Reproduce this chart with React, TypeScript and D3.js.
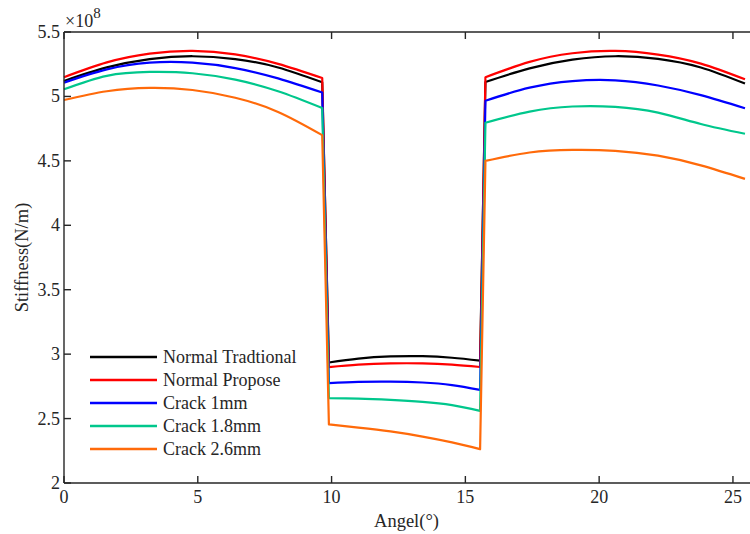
import React, { useEffect, useRef } from 'react';
import * as d3 from 'd3';

// angle (deg) sample points, shared by all series
const angles = [
  0, 1.6, 3.2, 4.8, 6.4, 8.0, 9.65,
  9.9, 11.0, 12.2, 13.4, 14.5, 15.55,
  15.75, 17.4, 19.0, 20.6, 22.2, 23.8, 25.45,
];
// the three contact regions (index ranges into angles)
const segments = [[0, 6], [7, 12], [13, 19]];

// stiffness values, x 1e8 N/m
const normalTraditional = [
  5.12, 5.225, 5.29, 5.312, 5.29, 5.225, 5.11,
  2.935, 2.965, 2.982, 2.984, 2.972, 2.95,
  5.112, 5.218, 5.285, 5.312, 5.292, 5.225, 5.1,
];
const normalPropose = [
  5.149, 5.264, 5.332, 5.353, 5.326, 5.253, 5.143,
  2.899, 2.918, 2.928, 2.928, 2.918, 2.9,
  5.149, 5.268, 5.335, 5.353, 5.325, 5.255, 5.133,
];
const crack1 = [
  5.107, 5.21, 5.262, 5.262, 5.22, 5.14, 5.03,
  2.775, 2.785, 2.787, 2.78, 2.76, 2.723,
  4.967, 5.068, 5.119, 5.125, 5.085, 5.01, 4.908,
];
const crack18 = [
  5.055, 5.16, 5.19, 5.18, 5.13, 5.04, 4.91,
  2.658, 2.655, 2.645, 2.63, 2.605, 2.56,
  4.796, 4.882, 4.922, 4.919, 4.874, 4.786, 4.71,
];
const crack26 = [
  4.972, 5.04, 5.066, 5.05, 4.99, 4.88, 4.7,
  2.455, 2.43, 2.4, 2.36, 2.315, 2.263,
  4.5, 4.565, 4.585, 4.578, 4.54, 4.465, 4.36,
];

const seriesNames = ['Normal Tradtional', 'Normal Propose', 'Crack 1mm', 'Crack 1.8mm', 'Crack 2.6mm'];
const seriesValues = [normalTraditional, normalPropose, crack1, crack18, crack26];
const seriesColors = ['#000000', '#ff0000', '#0000ff', '#00c78c', '#ff6a0a'];

const xTicks = [0, 5, 10, 15, 20, 25];
const yTicks = [2, 2.5, 3, 3.5, 4, 4.5, 5, 5.5];

const App = () => {
  const ref = useRef<SVGSVGElement>(null);

  useEffect(() => {
    const svg = d3.select(ref.current);
    svg.selectAll('*').remove();

    const width = 750, height = 534;
    const left = 64, right = 749, top = 32, bottom = 483;
    const font = "'Liberation Serif', 'Times New Roman', serif";
    const axisColor = '#262626';

    const x = d3.scaleLinear().domain([0, 25.6]).range([left, right]);
    const y = d3.scaleLinear().domain([2, 5.5]).range([bottom, top]);

    svg.attr('width', width).attr('height', height);

    // smooth within each region, straight jumps between regions
    const line = d3.line<[number, number]>()
      .x(d => x(d[0]))
      .y(d => y(d[1]))
      .curve(d3.curveNatural);

    const plot = svg.append('g');
    seriesValues.forEach((vals, i) => {
      const d = segments.map(([a, b], k) => {
        const pts = d3.range(a, b + 1).map(j => [angles[j], vals[j]] as [number, number]);
        const s = line(pts) || '';
        return k === 0 ? s : 'L' + s.slice(1);
      }).join('');
      plot.append('path')
        .attr('d', d)
        .attr('fill', 'none')
        .attr('stroke', seriesColors[i])
        .attr('stroke-width', 2.2)
        .attr('stroke-linejoin', 'round');
    });

    // axes box (left, bottom, top)
    const ax = svg.append('g').attr('stroke', axisColor).attr('stroke-width', 1.4);
    ax.append('line').attr('x1', left).attr('x2', left).attr('y1', top).attr('y2', bottom);
    ax.append('line').attr('x1', left).attr('x2', width).attr('y1', bottom).attr('y2', bottom);
    ax.append('line').attr('x1', left).attr('x2', width).attr('y1', top).attr('y2', top);

    xTicks.forEach(t => {
      ax.append('line').attr('x1', x(t)).attr('x2', x(t)).attr('y1', bottom).attr('y2', bottom - 7);
      ax.append('line').attr('x1', x(t)).attr('x2', x(t)).attr('y1', top).attr('y2', top + 7);
      svg.append('text')
        .attr('x', x(t)).attr('y', bottom + 20)
        .attr('text-anchor', 'middle')
        .attr('font-family', font).attr('font-size', 18).attr('fill', axisColor)
        .text(t);
    });

    yTicks.forEach(t => {
      ax.append('line').attr('x1', left).attr('x2', left + 7).attr('y1', y(t)).attr('y2', y(t));
      svg.append('text')
        .attr('x', left - 4).attr('y', y(t) + 6)
        .attr('text-anchor', 'end')
        .attr('font-family', font).attr('font-size', 18).attr('fill', axisColor)
        .text(t);
    });

    // exponent
    const exp = svg.append('text')
      .attr('x', left + 1).attr('y', 27)
      .attr('font-family', font).attr('font-size', 18).attr('fill', axisColor);
    exp.append('tspan').text('\u00d710');
    exp.append('tspan').attr('dy', -9).attr('font-size', 15).text('8');

    // axis labels
    svg.append('text')
      .attr('x', (left + right) / 2).attr('y', 527)
      .attr('text-anchor', 'middle')
      .attr('font-family', font).attr('font-size', 18.5).attr('fill', axisColor)
      .text('Angel(\u00b0)');

    svg.append('text')
      .attr('transform', `translate(28, ${(top + bottom) / 2}) rotate(-90)`)
      .attr('text-anchor', 'middle')
      .attr('font-family', font).attr('font-size', 18.5).attr('fill', axisColor)
      .text('Stiffness(N/m)');

    // legend
    const legend = svg.append('g');
    seriesNames.forEach((name, i) => {
      const ly = 357 + i * 23;
      legend.append('line')
        .attr('x1', 90).attr('x2', 157).attr('y1', ly).attr('y2', ly)
        .attr('stroke', seriesColors[i]).attr('stroke-width', 2.5);
      legend.append('text')
        .attr('x', 163).attr('y', ly + 6)
        .attr('font-family', font).attr('font-size', 18).attr('fill', axisColor)
        .text(name);
    });
  }, []);

  return <svg ref={ref} style={{ position: 'absolute', left: 0, top: 0 }}></svg>;
};

export default App;
